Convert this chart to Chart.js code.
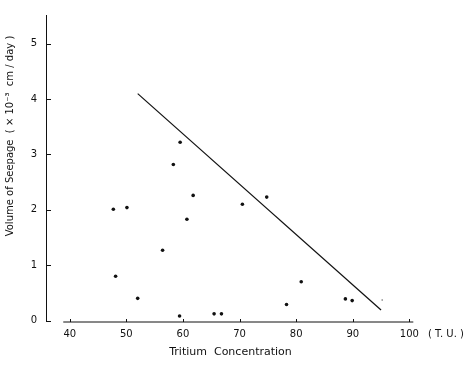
<!DOCTYPE html>
<html>
<head>
<meta charset="utf-8">
<script src="https://cdn.jsdelivr.net/npm/chart.js@4/dist/chart.umd.min.js"></script>
<style>
html,body{margin:0;padding:0;background:#fff;}
#wrap{width:472px;height:365px;}
</style>
</head>
<body>
<div id="wrap"><canvas id="c" width="472" height="365"></canvas></div>
<script>
// Data
const tritium = [47.7, 50.1, 48.1, 52.0, 56.4, 58.3, 59.5, 61.8, 60.7, 59.4, 65.5, 66.8, 70.5, 74.8, 78.3, 80.9, 88.7, 89.9];
const seepage = [2.01, 2.04, 0.80, 0.40, 1.27, 2.82, 3.22, 2.26, 1.83, 0.08, 0.12, 0.12, 2.10, 2.23, 0.29, 0.70, 0.39, 0.36];
const strayX = [95.2];
const strayY = [0.37];
const lineX = [52.0, 95.0];
const lineY = [4.10, 0.19];
const xTicks = [40, 50, 60, 70, 80, 90, 100];
const yTicks = [0, 1, 2, 3, 4, 5];

const FONT = "'DejaVu Sans', sans-serif";

const pts = tritium.map((x, i) => ({x, y: seepage[i]}));
const stray = strayX.map((x, i) => ({x, y: strayY[i]}));
const linePts = lineX.map((x, i) => ({x, y: lineY[i]}));

const decor = {
  id: 'decor',
  afterDraw(chart) {
    const ctx = chart.ctx;
    const xs = chart.scales.x, ys = chart.scales.y;
    const ca = chart.chartArea;
    ctx.save();
    ctx.strokeStyle = '#111';
    ctx.lineWidth = 1;
    // x axis line (offset from y axis)
    const yb = ca.bottom + 1.5;
    ctx.beginPath();
    ctx.moveTo(xs.getPixelForValue(38.85), yb);
    ctx.lineTo(xs.getPixelForValue(100.7), yb);
    ctx.stroke();
    // inward x ticks
    xTicks.forEach(v => {
      const px = Math.round(xs.getPixelForValue(v)) + 0.5;
      ctx.beginPath();
      ctx.moveTo(px, yb);
      ctx.lineTo(px, yb - 3);
      ctx.stroke();
    });
    // inward y ticks
    yTicks.forEach(v => {
      const py = Math.round(ys.getPixelForValue(v)) + 0.5;
      ctx.beginPath();
      ctx.moveTo(ca.left, py);
      ctx.lineTo(ca.left + 5, py);
      ctx.stroke();
    });
    // (T.U.) label
    ctx.fillStyle = '#111';
    ctx.font = '10px ' + FONT;
    ctx.textAlign = 'left';
    ctx.textBaseline = 'middle';
    ctx.fillText('( T. U. )', 428, 334);
    // y title
    ctx.translate(10, 136);
    ctx.rotate(-Math.PI / 2);
    ctx.textAlign = 'center';
    ctx.fillText('Volume of Seepage  ( \u00d7 10\u207b\u00b3  cm / day )', 0, 0);
    ctx.restore();
  }
};

new Chart(document.getElementById('c'), {
  type: 'scatter',
  data: {
    datasets: [
      {data: pts, backgroundColor: '#111', borderColor: '#111', pointRadius: 1.8, pointBorderWidth: 0},
      {data: stray, backgroundColor: '#666', borderColor: '#666', pointRadius: 0.8, pointBorderWidth: 0},
      {type: 'line', data: linePts, borderColor: '#111', borderWidth: 1.2, pointRadius: 0, fill: false, showLine: true}
    ]
  },
  options: {
    responsive: false,
    animation: false,
    devicePixelRatio: 1,
    layout: {padding: {left: 0, right: 57, top: 8, bottom: 6}},
    plugins: {legend: {display: false}, tooltip: {enabled: false}},
    scales: {
      x: {
        type: 'linear', min: 35.8, max: 101,
        afterBuildTicks: s => { s.ticks = xTicks.map(v => ({value: v})); },
        afterFit: s => { s.height = 38.5; },
        grid: {display: false, drawTicks: false},
        border: {display: false},
        ticks: {color: '#111', font: {family: FONT, size: 10}, padding: 8, maxRotation: 0},
        title: {display: true, text: 'Tritium  Concentration', color: '#111', font: {family: FONT, size: 11}, padding: {top: 0, bottom: 0}}
      },
      y: {
        type: 'linear', min: 0, max: 5.52,
        afterBuildTicks: s => { s.ticks = yTicks.map(v => ({value: v})); },
        afterFit: s => { s.width = 46; },
        grid: {display: false, drawTicks: false},
        border: {display: true, color: '#111', width: 1},
        ticks: {color: '#111', font: {family: FONT, size: 10}, padding: 9}
      }
    }
  },
  plugins: [decor]
});
</script>
</body>
</html>
